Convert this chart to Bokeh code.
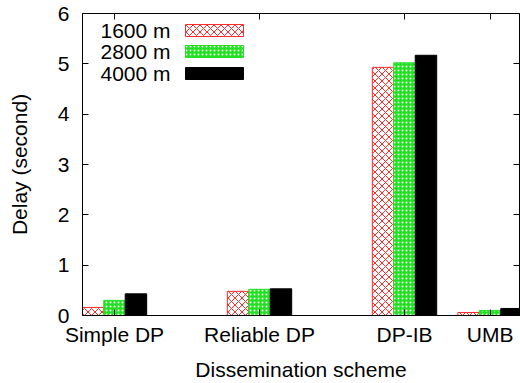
from bokeh.plotting import figure
from bokeh.models import FixedTicker, LinearAxis, Range1d, BoxAnnotation, Label, ColumnDataSource
from bokeh.transform import dodge
from bokeh.embed import file_html
from bokeh.resources import INLINE

# ---- data ----
schemes = ["Simple DP", "Reliable DP", "DP-IB", "UMB"]
scheme_pos = [0.0, 1.0, 2.0, 2.59]
series_names = ["1600 m", "2800 m", "4000 m"]
delay_1600 = [0.16, 0.48, 4.93, 0.06]
delay_2800 = [0.30, 0.52, 5.02, 0.10]
delay_4000 = [0.43, 0.53, 5.17, 0.14]
y_ticks = [0, 1, 2, 3, 4, 5, 6]

FONT = "Liberation Sans"
FS = "21px"
BW = 0.148

src = ColumnDataSource(dict(pos=scheme_pos, d1600=delay_1600, d2800=delay_2800, d4000=delay_4000))

p = figure(width=520, height=383, x_range=Range1d(-0.2207, 2.793), y_range=Range1d(0, 6),
           output_backend="svg", toolbar_location=None,
           min_border_left=82, min_border_right=1, min_border_top=13, min_border_bottom=0)
p.grid.visible = False
p.outline_line_color = "black"
p.outline_line_width = 1
p.background_fill_color = "white"

RED = "#ff2a2a"
GREEN = "#22e022"

p.vbar(x=dodge("pos", -BW, range=p.x_range), top="d1600", width=BW, source=src,
       fill_color="white", line_color=RED, line_width=1,
       hatch_pattern="diagonal_cross", hatch_color=RED, hatch_scale=7, hatch_weight=1)
p.vbar(x=dodge("pos", 0, range=p.x_range), top="d2800", width=BW, source=src,
       fill_color=GREEN, line_color=GREEN, line_width=1,
       hatch_pattern="dot", hatch_color="white", hatch_scale=4, hatch_weight=1.5)
p.vbar(x=dodge("pos", BW, range=p.x_range), top="d4000", width=BW, source=src,
       fill_color="black", line_color="black", line_width=1)

def style_axis(ax):
    ax.major_tick_in = 6
    ax.major_tick_out = 0
    ax.minor_tick_line_color = None
    ax.axis_line_color = "black"
    ax.major_tick_line_color = "black"
    ax.major_label_text_font = FONT
    ax.major_label_text_font_size = FS
    ax.major_label_text_color = "black"
    ax.axis_label_text_font = FONT
    ax.axis_label_text_font_size = FS
    ax.axis_label_text_font_style = "normal"
    ax.axis_label_text_color = "black"

xa = p.xaxis[0]
style_axis(xa)
xa.ticker = FixedTicker(ticks=scheme_pos)
xa.major_label_overrides = {pos: name for pos, name in zip(scheme_pos, schemes)}
xa.axis_label = "Dissemination scheme"
xa.major_label_standoff = 7
xa.axis_label_standoff = 9

ya = p.yaxis[0]
style_axis(ya)
ya.ticker = FixedTicker(ticks=y_ticks)
ya.axis_label = "Delay (second)"
ya.major_label_standoff = 13
ya.axis_label_standoff = 24

def mirror_axis(ticks):
    ax = LinearAxis(ticker=FixedTicker(ticks=ticks))
    style_axis(ax)
    ax.major_label_text_font_size = "1px"
    ax.major_label_text_color = None
    ax.major_label_standoff = 0
    ax.axis_line_color = None
    return ax

p.add_layout(mirror_axis(scheme_pos), "above")
p.add_layout(mirror_axis(y_ticks), "right")

# ---- legend (text left, swatch right) ----
frame_h = 301
row_y = [frame_h - 16, frame_h - 37, frame_h - 59]
styles = [
    dict(fill_color="white", line_color=RED, hatch_pattern="diagonal_cross", hatch_color=RED, hatch_scale=7, hatch_weight=1),
    dict(fill_color=GREEN, line_color=GREEN, hatch_pattern="dot", hatch_color="white", hatch_scale=4, hatch_weight=1.5),
    dict(fill_color="black", line_color="black"),
]
for name, y, st in zip(series_names, row_y, styles):
    p.add_layout(Label(x=88, y=y, x_units="screen", y_units="screen", text=name,
                       text_align="right", text_baseline="middle",
                       text_font=FONT, text_font_size=FS, text_color="black"))
    p.add_layout(BoxAnnotation(left=103, right=161, bottom=y - 6, top=y + 6,
                               left_units="screen", right_units="screen",
                               bottom_units="screen", top_units="screen",
                               fill_alpha=1, line_alpha=1, line_width=1, **st))

open("out.html", "w").write(file_html(p, INLINE))
